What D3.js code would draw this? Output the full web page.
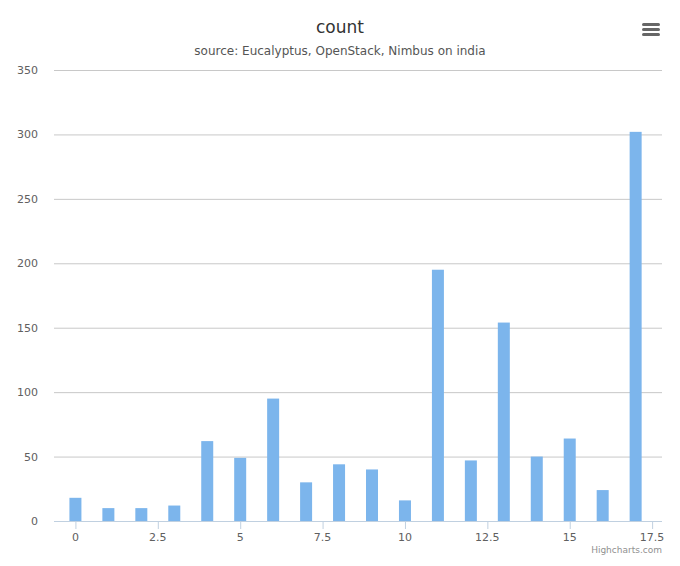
<!DOCTYPE html>
<html><head><meta charset="utf-8">
<script src="https://cdn.jsdelivr.net/npm/d3@7"></script>
<style>body{margin:0;background:#fff;font-family:"DejaVu Sans",sans-serif;}</style>
</head><body><div id="app"></div>
<script>
const xValues = [0, 1, 2, 3, 4, 5, 6, 7, 8, 9, 10, 11, 12, 13, 14, 15, 16, 17];
const counts = [18, 10, 10, 12, 62, 49, 95, 30, 44, 40, 16, 195, 47, 154, 50, 64, 24, 302];
const xTicks = [0, 2.5, 5, 7.5, 10, 12.5, 15, 17.5];
const yTicks = [0, 50, 100, 150, 200, 250, 300, 350];

(() => {
  const W = 680, H = 566;
  const left = 54, right = 662, top = 70, bottom = 521;
  const svg = d3.select('#app').append('svg').attr('width', W).attr('height', H);

  const x = d3.scaleLinear().domain([-0.65, 17.8]).range([left, right]);
  const y = d3.scaleLinear().domain([0, 350]).range([bottom, top]);

  // grid
  svg.append('g').selectAll('line').data(yTicks.slice(1)).enter().append('line')
    .attr('x1', left).attr('x2', right)
    .attr('y1', d => y(d) + 0.5).attr('y2', d => y(d) + 0.5)
    .style('stroke', '#c8c8c8');

  svg.append('g').selectAll('text').data(yTicks).enter().append('text')
    .text(d => d).attr('x', 38).attr('y', d => y(d) + 4)
    .attr('font-size', 11).style('fill', '#606060').style('text-anchor', 'end');

  // bars
  svg.append('g').selectAll('rect').data(counts).enter().append('rect')
    .attr('x', (d, i) => x(xValues[i]) - 6)
    .attr('y', d => y(d))
    .attr('width', 12)
    .attr('height', d => bottom - y(d))
    .style('fill', '#7cb5ec');

  // x axis
  svg.append('line').attr('x1', left).attr('x2', right)
    .attr('y1', bottom + 0.5).attr('y2', bottom + 0.5).style('stroke', '#c0d0e0');
  svg.append('g').selectAll('line').data(xTicks).enter().append('line')
    .attr('x1', d => x(d) + 0.5).attr('x2', d => x(d) + 0.5)
    .attr('y1', bottom).attr('y2', bottom + 8).style('stroke', '#c0d0e0');
  svg.append('g').selectAll('text').data(xTicks).enter().append('text')
    .text(d => d).attr('x', d => x(d)).attr('y', bottom + 20)
    .attr('font-size', 11).style('fill', '#606060').style('text-anchor', 'middle');

  // titles
  svg.append('text').text('count').attr('x', W / 2).attr('y', 33)
    .attr('font-size', 17).style('fill', '#333').style('text-anchor', 'middle');
  svg.append('text').text('source: Eucalyptus, OpenStack, Nimbus on india').attr('x', W / 2).attr('y', 55)
    .attr('font-size', 12).style('fill', '#555').style('text-anchor', 'middle');

  // menu icon
  [0, 5, 10].forEach(o => svg.append('rect').attr('x', 642).attr('y', 23 + o)
    .attr('width', 18).attr('height', 3).attr('rx', 1.5).style('fill', '#666'));

  svg.append('text').text('Highcharts.com').attr('x', 662).attr('y', 553)
    .attr('font-size', 9).style('fill', '#909090').style('text-anchor', 'end');
})();
</script></body></html>
